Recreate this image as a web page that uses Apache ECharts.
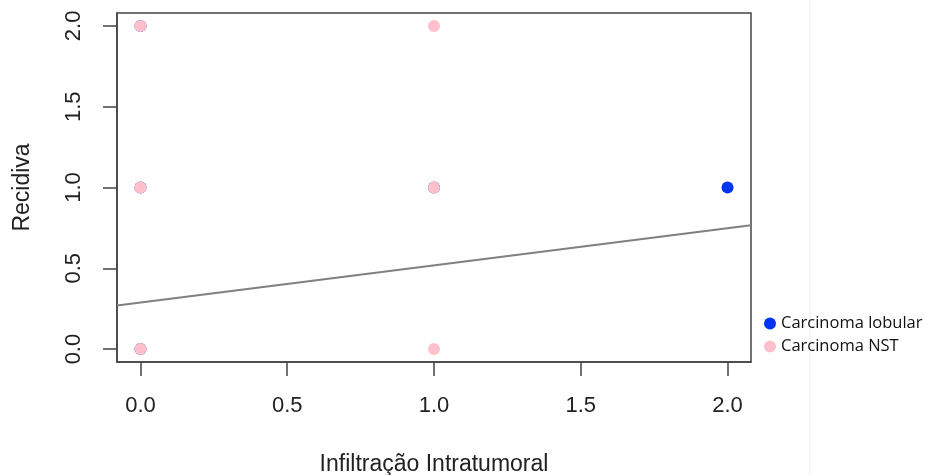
<!DOCTYPE html>
<html>
<head>
<meta charset="utf-8">
<script src="https://cdn.jsdelivr.net/npm/echarts@6/dist/echarts.min.js"></script>
</head>
<body style="margin:0;background:#fff">
<div id="chart" style="width:925px;height:475px;"></div>
<script type="text/javascript">
// points: [infiltracao, recidiva]
var lobular = [[0, 0], [0, 1], [0, 2], [1, 1], [2, 1]];
var nst = [[0, 0], [0, 1], [0, 2], [1, 0], [1, 1], [1, 2]];
// fitted line, ends at the plot edges
var lineX = [-0.08, 2.08];
var lineY = [0.27, 0.767];
var tickVals = [0, 0.5, 1, 1.5, 2];

var chart = echarts.init(document.getElementById('chart'));

var tickFont = { fontFamily: 'Liberation Sans', fontSize: 22, color: '#222' };
var titleFont = { fontFamily: 'Liberation Sans', fontSize: 23, color: '#222' };
var fmt = function (v) { return v.toFixed(1); };

var option = {
  animation: false,
  grid: {
    left: 117, right: 174, top: 13, bottom: 113,
    outerBoundsMode: 'none',
    show: true, borderColor: '#444', borderWidth: 1.5
  },
  legend: {
    orient: 'vertical',
    left: 759,
    top: 310,
    itemWidth: 12,
    itemHeight: 12,
    itemGap: 6,
    icon: 'circle',
    textStyle: { fontFamily: 'Open Sans', fontSize: 16.5, color: '#111', padding: [0, 0, 0, 0] },
    data: ['Carcinoma lobular', 'Carcinoma NST']
  },
  xAxis: {
    type: 'value',
    min: -0.08,
    max: 2.08,
    name: 'Infiltração Intratumoral',
    nameLocation: 'middle',
    nameGap: 91,
    nameTextStyle: titleFont,
    splitLine: { show: false },
    axisLine: { show: true, onZero: false, lineStyle: { color: '#444', width: 1.5 } },
    axisTick: { show: true, inside: false, length: 14, customValues: tickVals, lineStyle: { color: '#444', width: 1.5 } },
    axisLabel: Object.assign({ margin: 33, customValues: tickVals, formatter: fmt }, tickFont)
  },
  yAxis: {
    type: 'value',
    min: -0.08,
    max: 2.08,
    name: 'Recidiva',
    nameLocation: 'middle',
    nameGap: 83,
    nameTextStyle: titleFont,
    splitLine: { show: false },
    axisLine: { show: true, onZero: false, lineStyle: { color: '#444', width: 1.5 } },
    axisTick: { show: true, inside: false, length: 14, customValues: tickVals, lineStyle: { color: '#444', width: 1.5 } },
    axisLabel: Object.assign({ margin: 32, rotate: 90, customValues: tickVals, formatter: fmt }, tickFont)
  },
  graphic: [{
    type: 'line',
    shape: { x1: 810, y1: 0, x2: 810, y2: 475 },
    style: { stroke: '#ececec', lineWidth: 1 },
    silent: true
  }],
  series: [
    {
      name: 'Carcinoma lobular',
      type: 'scatter',
      symbolSize: 12,
      itemStyle: { color: '#0033f2', opacity: 1 },
      data: lobular,
      z: 2
    },
    {
      name: 'Carcinoma NST',
      type: 'scatter',
      symbolSize: 12,
      itemStyle: { color: '#ffc0cb', opacity: 1 },
      data: nst,
      z: 3
    },
    {
      name: 'fit',
      type: 'line',
      showSymbol: false,
      symbol: 'none',
      lineStyle: { color: '#808080', width: 2 },
      data: [[lineX[0], lineY[0]], [lineX[1], lineY[1]]],
      z: 4
    }
  ]
};

chart.setOption(option);
</script>
</body>
</html>
